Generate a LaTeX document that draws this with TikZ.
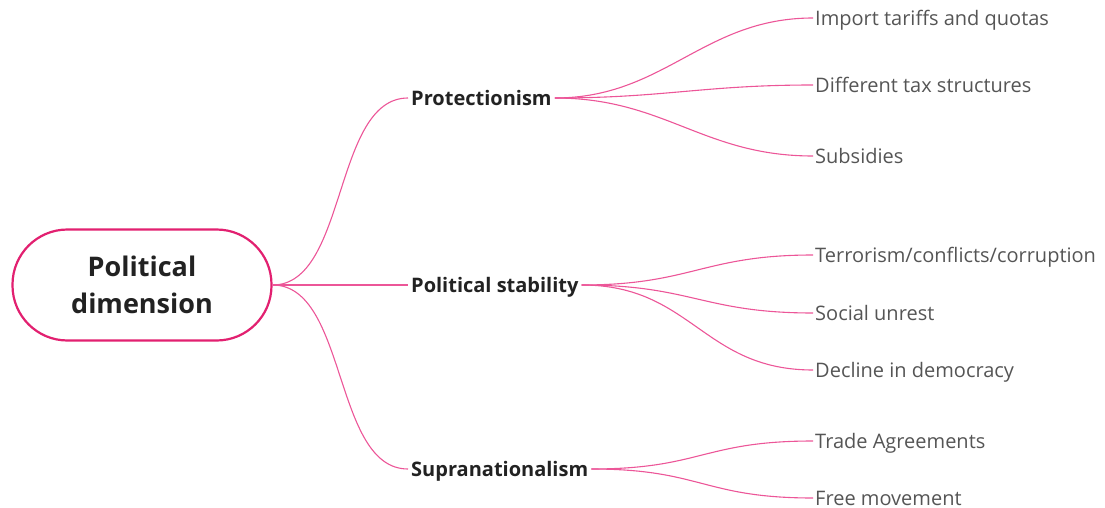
\documentclass[tikz,border=0pt]{standalone}
\usepackage{fontspec}
\setmainfont{Open Sans}
\definecolor{rootpink}{RGB}{226,32,112}
\definecolor{linkpink}{RGB}{236,86,152}
\definecolor{branchtext}{RGB}{34,34,34}
\definecolor{leaftext}{RGB}{85,85,85}
\tikzset{
  rootbox/.style={draw=rootpink, line width=2.2pt, fill=white, rounded corners=55pt,
    minimum width=259pt, minimum height=111pt, align=center, text=branchtext,
    font=\fontsize{27}{37}\selectfont\bfseries},
  % text height = cap height, so connectors meet the middle of the capitals
  branch/.style={anchor=west, inner xsep=3pt, inner ysep=0pt,
    text height=14.3pt, text depth=0pt, text=branchtext,
    font=\fontsize{20}{22}\selectfont\bfseries},
  leaf/.style={anchor=west, inner xsep=2pt, inner ysep=0pt,
    text height=14.2pt, text depth=0pt, text=leaftext,
    font=\fontsize{20}{22}\selectfont},
  link/.style={draw=linkpink, line width=1.1pt},
}
\begin{document}
\begin{tikzpicture}[x=1pt, y=-1pt]
\useasboundingbox (0,0) rectangle (1105,508);

% central topic
\node[rootbox] (root) at (142,285) {Political\\dimension};

% main branches
\node[branch] (prot) at (408,98) {Protectionism};
\node[branch] (stab) at (408,285) {Political stability};
\node[branch] (supr) at (408,469) {Supranationalism};

% leaves
\node[leaf] (l1) at (813,18)  {Import tariffs and quotas};
\node[leaf] (l2) at (813,85)  {Different tax structures};
\node[leaf] (l3) at (813,156) {Subsidies};
\node[leaf] (l4) at (813,255) {Terrorism/conflicts/corruption};
\node[leaf] (l5) at (813,313) {Social unrest};
\node[leaf] (l6) at (813,370) {Decline in democracy};
\node[leaf] (l7) at (813,441) {Trade Agreements};
\node[leaf] (l8) at (813,498) {Free movement};

% root to branches
\draw[link] (root.east) .. controls +(75,0) and +(-75,0) .. (prot.west);
\draw[link] (root.east) -- (stab.west);
\draw[link] (root.east) .. controls +(75,0) and +(-75,0) .. (supr.west);

% branches to leaves
\foreach \b/\l in {prot/l1, prot/l2, prot/l3, stab/l4, stab/l5, stab/l6, supr/l7, supr/l8}
  \draw[link] (\b.east) .. controls +(110,0) and +(-110,0) .. (\l.west);
\end{tikzpicture}
\end{document}
